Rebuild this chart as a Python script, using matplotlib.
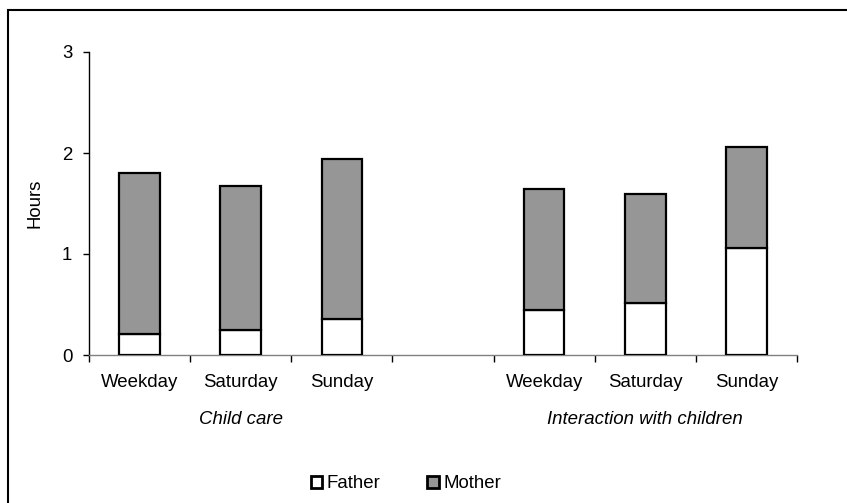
import matplotlib
matplotlib.use("Agg")
import matplotlib.pyplot as plt
from matplotlib.patches import Rectangle, Patch

plt.rcParams['font.family'] = ['Liberation Sans', 'DejaVu Sans']

days = ["Weekday", "Saturday", "Sunday"]
groups = ["Child care", "Interaction with children"]
father_cc = [0.205, 0.248, 0.356]
mother_cc = [1.595, 1.428, 1.584]
father_int = [0.442, 0.518, 1.060]
mother_int = [1.202, 1.072, 1.003]
yticks = [0, 1, 2, 3]

FS = 13.4
W, H = 847, 503
fig = plt.figure(figsize=(W / 100, H / 100), dpi=100)
ax = fig.add_axes([89 / W, 1 - 355 / H, (797 - 89) / W, (355 - 52) / H])

xpos = [0, 1, 2, 4, 5, 6]
father = father_cc + father_int
mother = mother_cc + mother_int
grey = '#969696'
ax.bar(xpos, father, width=0.4, color='white', edgecolor='black', linewidth=1.6, zorder=3)
ax.bar(xpos, mother, width=0.4, bottom=father, color=grey, edgecolor='black', linewidth=1.6, zorder=3)

ax.set_xlim(-0.5, 6.5)
ax.set_ylim(0, 3)
ax.set_yticks(yticks)
ax.set_yticklabels([str(v) for v in yticks], fontsize=FS)
ax.set_xticks([i - 0.5 for i in range(8)])
ax.set_xticklabels([])
ax.tick_params(axis='x', direction='out', length=5, width=1, color='black')
ax.tick_params(axis='y', direction='out', length=4, width=1, pad=8)

for s in ['top', 'right']:
    ax.spines[s].set_visible(False)
ax.spines['left'].set_color('black')
ax.spines['bottom'].set_color('#808080')
ax.spines['left'].set_linewidth(1)
ax.spines['bottom'].set_linewidth(1)

tr = ax.get_xaxis_transform()
for x, d in zip(xpos, days + days):
    ax.text(x, -0.0924, d, transform=tr, ha='center', va='center', fontsize=FS)
ax.text(1, -0.2145, groups[0], transform=tr, ha='center', va='center', fontsize=FS, style='italic')
ax.text(5, -0.2145, groups[1], transform=tr, ha='center', va='center', fontsize=FS, style='italic')

fig.text(35 / W, 1 - 203 / H, "Hours", rotation=90, ha='center', va='center', fontsize=FS)

handles = [Patch(facecolor='white', edgecolor='black', linewidth=2.0),
           Patch(facecolor=grey, edgecolor='black', linewidth=2.0)]
fig.legend(handles, ["Father", "Mother"], loc='center', bbox_to_anchor=(406 / W, 1 - 484 / H),
           ncol=2, frameon=False, fontsize=FS, handlelength=0.62, handleheight=0.62,
           handletextpad=0.25, columnspacing=2.5, borderpad=0)

fig.patches.append(Rectangle((8 / W, -0.1), 1.2, (1 - 10 / H) + 0.1, transform=fig.transFigure,
                             fill=False, edgecolor='black', linewidth=1.5, clip_on=False))

fig.savefig("out.png", dpi=100)
